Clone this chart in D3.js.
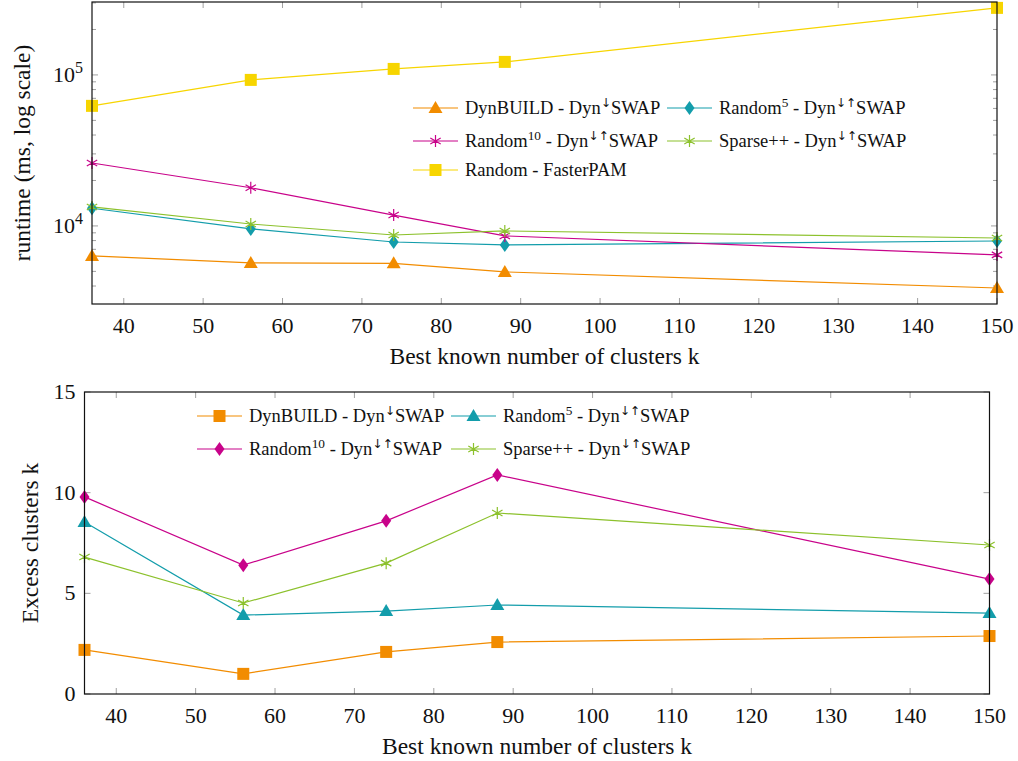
<!DOCTYPE html>
<html>
<head>
<meta charset="utf-8">
<script src="https://cdn.jsdelivr.net/npm/d3@7"></script>
<style>
  body { margin: 0; background: #fff; }
</style>
</head>
<body>
<script>
// data
const kValues = [36, 56, 74, 88, 150];

// runtime (ms)
const rtDynBuild = [6330, 5690, 5650, 4960, 3880];
const rtRandom5 = [13100, 9560, 7830, 7480, 7950];
const rtRandom10 = [26100, 17900, 11800, 8590, 6430];
const rtSparse = [13360, 10300, 8710, 9260, 8320];
const rtFasterPam = [62400, 92700, 109600, 122000, 278000];

// excess clusters
const exDynBuild = [2.19, 1.0, 2.09, 2.58, 2.88];
const exRandom5 = [8.54, 3.92, 4.12, 4.42, 4.02];
const exRandom10 = [9.79, 6.4, 8.6, 10.88, 5.71];
const exSparse = [6.8, 4.52, 6.5, 8.99, 7.4];

const xTicks = [40, 50, 60, 70, 80, 90, 100, 110, 120, 130, 140, 150];
const excessTicks = [0, 5, 10, 15];

const C = {
  orange: "#f28c00",
  teal: "#139dab",
  magenta: "#c8038a",
  green: "#8cc12c",
  yellow: "#f7d500"
};

const FONT = "'Liberation Serif', 'Times New Roman', Times, 'DejaVu Serif', serif";
const W = 1018, H = 761;
const svg = d3.select("body").append("svg").attr("width", W).attr("height", H)
  .attr("font-family", FONT).style("font-family", FONT);

function txt(g) {
  return g.append("text").attr("font-family", FONT).attr("fill", "#111");
}

function marker(g, shape, color, x, y) {
  if (shape === "square") {
    g.append("rect").attr("x", x - 6).attr("y", y - 6).attr("width", 12).attr("height", 12).attr("fill", color);
  } else if (shape === "triangle") {
    g.append("path").attr("d", `M${x},${y - 7} L${x + 7},${y + 5} L${x - 7},${y + 5} Z`).attr("fill", color);
  } else if (shape === "diamond") {
    g.append("path").attr("d", `M${x},${y - 7} L${x + 5},${y} L${x},${y + 7} L${x - 5},${y} Z`).attr("fill", color);
  } else if (shape === "asterisk") {
    const r = 6;
    const p = [90, 210, 330, 270, 30, 150].map(a => {
      const t = a * Math.PI / 180;
      return `M${x},${y} L${x + r * Math.cos(t)},${y - r * Math.sin(t)}`;
    }).join(" ");
    g.append("path").attr("d", p).attr("stroke", color).attr("stroke-width", 1.2).attr("fill", "none");
  }
}

function richLabel(g, x, y, parts, size) {
  // parts: [text, sup?]
  const t = txt(g).attr("x", x).attr("y", y).style("font-size", size + "px");
  let raised = false;
  parts.forEach(p => {
    const s = t.append("tspan").text(p[0]);
    if (p[1]) {
      s.style("font-size", (size * 0.72) + "px");
      if (/[\u2190-\u21ff]/.test(p[0])) s.attr("font-family", "'DejaVu Sans', sans-serif").style("font-size", (size * 0.66) + "px");
      if (!raised) { s.attr("dy", -7); raised = true; }
    } else if (raised) { s.attr("dy", 7); raised = false; }
  });
}

function drawPanel(opt) {
  const g = svg.append("g");
  const x = d3.scaleLinear().domain([36, 150]).range([opt.left, opt.right]);
  const y = opt.y;

  // ticks (inside, mirrored)
  const tk = g.append("g").attr("stroke", "#a0a0a0").attr("stroke-width", 1);
  xTicks.forEach(v => {
    tk.append("line").attr("x1", x(v)).attr("x2", x(v)).attr("y1", opt.bottom).attr("y2", opt.bottom - 6);
    tk.append("line").attr("x1", x(v)).attr("x2", x(v)).attr("y1", opt.top).attr("y2", opt.top + 6);
  });
  opt.yTicks.forEach(t => {
    const len = t.minor ? 4 : 6;
    tk.append("line").attr("x1", opt.left).attr("x2", opt.left + len).attr("y1", y(t.v)).attr("y2", y(t.v));
    tk.append("line").attr("x1", opt.right).attr("x2", opt.right - len).attr("y1", y(t.v)).attr("y2", y(t.v));
  });

  // x tick labels
  xTicks.forEach(v => {
    txt(g).attr("x", x(v)).attr("y", opt.bottom + 29).attr("text-anchor", "middle")
      .style("font-size", "22px").text(v);
  });
  // y tick labels
  opt.yTicks.filter(t => t.label).forEach(t => {
    const tx = txt(g).attr("x", opt.left - 9).attr("y", y(t.v) + 7).attr("text-anchor", "end")
      .style("font-size", "22px");
    if (t.exp !== undefined) {
      tx.append("tspan").text("10");
      tx.append("tspan").attr("dy", -9).style("font-size", "16px").text(t.exp);
    } else {
      tx.text(t.label);
    }
  });

  // series
  opt.series.forEach(s => {
    const line = d3.line().x((d, i) => x(kValues[i])).y(d => y(d));
    g.append("path").datum(s.values).attr("d", line).attr("fill", "none")
      .attr("stroke", s.color).attr("stroke-width", 1.2);
  });
  opt.series.forEach(s => {
    s.values.forEach((v, i) => marker(g, s.shape, s.color, x(kValues[i]), y(v)));
  });

  // frame
  g.append("rect").attr("x", opt.left).attr("y", opt.top)
    .attr("width", opt.right - opt.left).attr("height", opt.bottom - opt.top)
    .attr("fill", "none").attr("stroke", "#111").attr("stroke-width", 1.2);

  // axis labels
  txt(g).attr("x", (opt.left + opt.right) / 2).attr("y", opt.bottom + 60)
    .attr("text-anchor", "middle").style("font-size", "23.5px").text("Best known number of clusters k");
  txt(g).attr("transform", `translate(${opt.yLabelX},${(opt.top + opt.bottom) / 2}) rotate(-90)`)
    .attr("text-anchor", "middle").style("font-size", "23.5px").text(opt.yLabel);

  // legend
  opt.series.forEach(s => {
    const lx = opt.legend.cols[s.col], ly = opt.legend.rows[s.row];
    g.append("line").attr("x1", lx).attr("x2", lx + 45).attr("y1", ly).attr("y2", ly)
      .attr("stroke", s.color).attr("stroke-width", 1.2);
    marker(g, s.shape, s.color, lx + 22.5, ly);
    richLabel(g, lx + 52, ly + 6, s.label, 18.5);
  });
}

// top panel
const yLog = d3.scaleLog().domain([Math.pow(10, 3.483), Math.pow(10, 5.483)]).range([304, 2]);
const logTicks = [];
[1000, 10000, 100000].forEach(dec => {
  for (let m = 1; m <= 9; m++) {
    const v = dec * m;
    if (v >= yLog.domain()[0] && v <= yLog.domain()[1]) {
      logTicks.push(m === 1 ? { v, label: true, exp: Math.round(Math.log10(dec)) } : { v, minor: true });
    }
  }
});

const arrowDown = "\u2193", arrowBoth = "\u2193\u2191";
drawPanel({
  left: 92, right: 997, top: 2, bottom: 304,
  y: yLog, yTicks: logTicks,
  yLabel: "runtime (ms, log scale)", yLabelX: 30,
  legend: { cols: [413, 667], rows: [108, 141, 170] },
  series: [
    { values: rtDynBuild, color: C.orange, shape: "triangle", col: 0, row: 0,
      label: [["DynBUILD - Dyn"], [arrowDown, true], ["SWAP"]] },
    { values: rtRandom5, color: C.teal, shape: "diamond", col: 1, row: 0,
      label: [["Random"], ["5", true], [" - Dyn"], [arrowBoth, true], ["SWAP"]] },
    { values: rtRandom10, color: C.magenta, shape: "asterisk", col: 0, row: 1,
      label: [["Random"], ["10", true], [" - Dyn"], [arrowBoth, true], ["SWAP"]] },
    { values: rtSparse, color: C.green, shape: "asterisk", col: 1, row: 1,
      label: [["Sparse++ - Dyn"], [arrowBoth, true], ["SWAP"]] },
    { values: rtFasterPam, color: C.yellow, shape: "square", col: 0, row: 2,
      label: [["Random - FasterPAM"]] }
  ]
});

// bottom panel
const yLin = d3.scaleLinear().domain([0, 15]).range([694, 392]);
drawPanel({
  left: 84.5, right: 989.5, top: 392, bottom: 694,
  y: yLin, yTicks: excessTicks.map(v => ({ v, label: String(v) })),
  yLabel: "Excess clusters k", yLabelX: 38,
  legend: { cols: [197, 451], rows: [416, 449] },
  series: [
    { values: exDynBuild, color: C.orange, shape: "square", col: 0, row: 0,
      label: [["DynBUILD - Dyn"], [arrowDown, true], ["SWAP"]] },
    { values: exRandom5, color: C.teal, shape: "triangle", col: 1, row: 0,
      label: [["Random"], ["5", true], [" - Dyn"], [arrowBoth, true], ["SWAP"]] },
    { values: exRandom10, color: C.magenta, shape: "diamond", col: 0, row: 1,
      label: [["Random"], ["10", true], [" - Dyn"], [arrowBoth, true], ["SWAP"]] },
    { values: exSparse, color: C.green, shape: "asterisk", col: 1, row: 1,
      label: [["Sparse++ - Dyn"], [arrowBoth, true], ["SWAP"]] }
  ]
});
</script>
</body>
</html>
